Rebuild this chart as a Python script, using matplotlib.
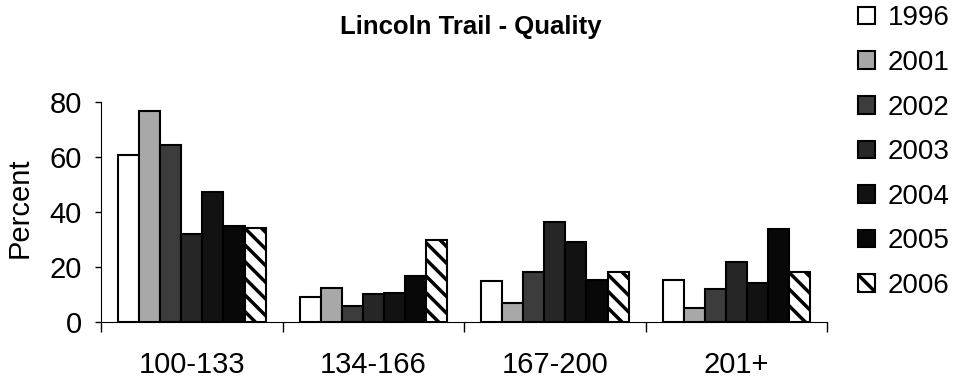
import matplotlib
matplotlib.use("Agg")
import matplotlib.pyplot as plt
import numpy as np

plt.rcParams['font.family'] = ['Liberation Sans', 'DejaVu Sans']
plt.rcParams['hatch.linewidth'] = 2.5

categories = ['100-133', '134-166', '167-200', '201+']
years = ['1996', '2001', '2002', '2003', '2004', '2005', '2006']
v1996 = [60.7, 9.2, 14.9, 15.3]
v2001 = [76.7, 12.5, 6.9, 5.2]
v2002 = [64.4, 5.8, 18.2, 11.9]
v2003 = [32.0, 10.0, 36.5, 21.7]
v2004 = [47.3, 10.7, 29.2, 14.1]
v2005 = [35.0, 16.7, 15.3, 33.7]
v2006 = [34.2, 29.8, 18.2, 18.1]
series = [v1996, v2001, v2002, v2003, v2004, v2005, v2006]

colors = ['white', '#a8a8a8', '#3c3c3c', '#262626', '#121212', '#080808', 'white']
hatches = [None, None, None, None, None, None, '\\\\']

fig = plt.figure(figsize=(9.54, 3.81), dpi=100)
ax = fig.add_axes([0.106, 0.155, 0.761, 0.577])

width = 0.116
x = np.arange(len(categories)) + 0.5
for i, vals in enumerate(series):
    ax.bar(x + (i - 3) * width, vals, width, color=colors[i], edgecolor='black',
           linewidth=1.5, hatch=hatches[i], label=years[i])

ax.set_xlim(0, 4)
ax.set_ylim(0, 80)
ax.set_yticks([0, 20, 40, 60, 80])
ax.tick_params(axis='y', labelsize=21, length=4, width=1, direction='out', pad=10)
ax.set_xticks([0, 1, 2, 3, 4])
ax.set_xticklabels([])
ax.tick_params(axis='x', which='major', length=7, width=1, direction='out')
ax.set_xticks(x, minor=True)
ax.set_xticklabels(categories, minor=True, fontsize=21)
ax.tick_params(axis='x', which='minor', length=0, pad=21)
ax.spines['top'].set_visible(False)
ax.spines['right'].set_visible(False)
ax.set_ylabel('Percent', fontsize=21)
ax.yaxis.set_label_coords(-0.093, 0.52)

fig.text(0.493, 0.93, 'Lincoln Trail - Quality', ha='center', va='center',
         fontsize=18.5, fontweight='bold')

fig.legend(loc='upper left', bbox_to_anchor=(0.888, 1.015), frameon=False,
           fontsize=20, handlelength=0.6, handleheight=0.6, handletextpad=0.45,
           labelspacing=0.67, borderaxespad=0)

fig.savefig('out.png', dpi=100)
